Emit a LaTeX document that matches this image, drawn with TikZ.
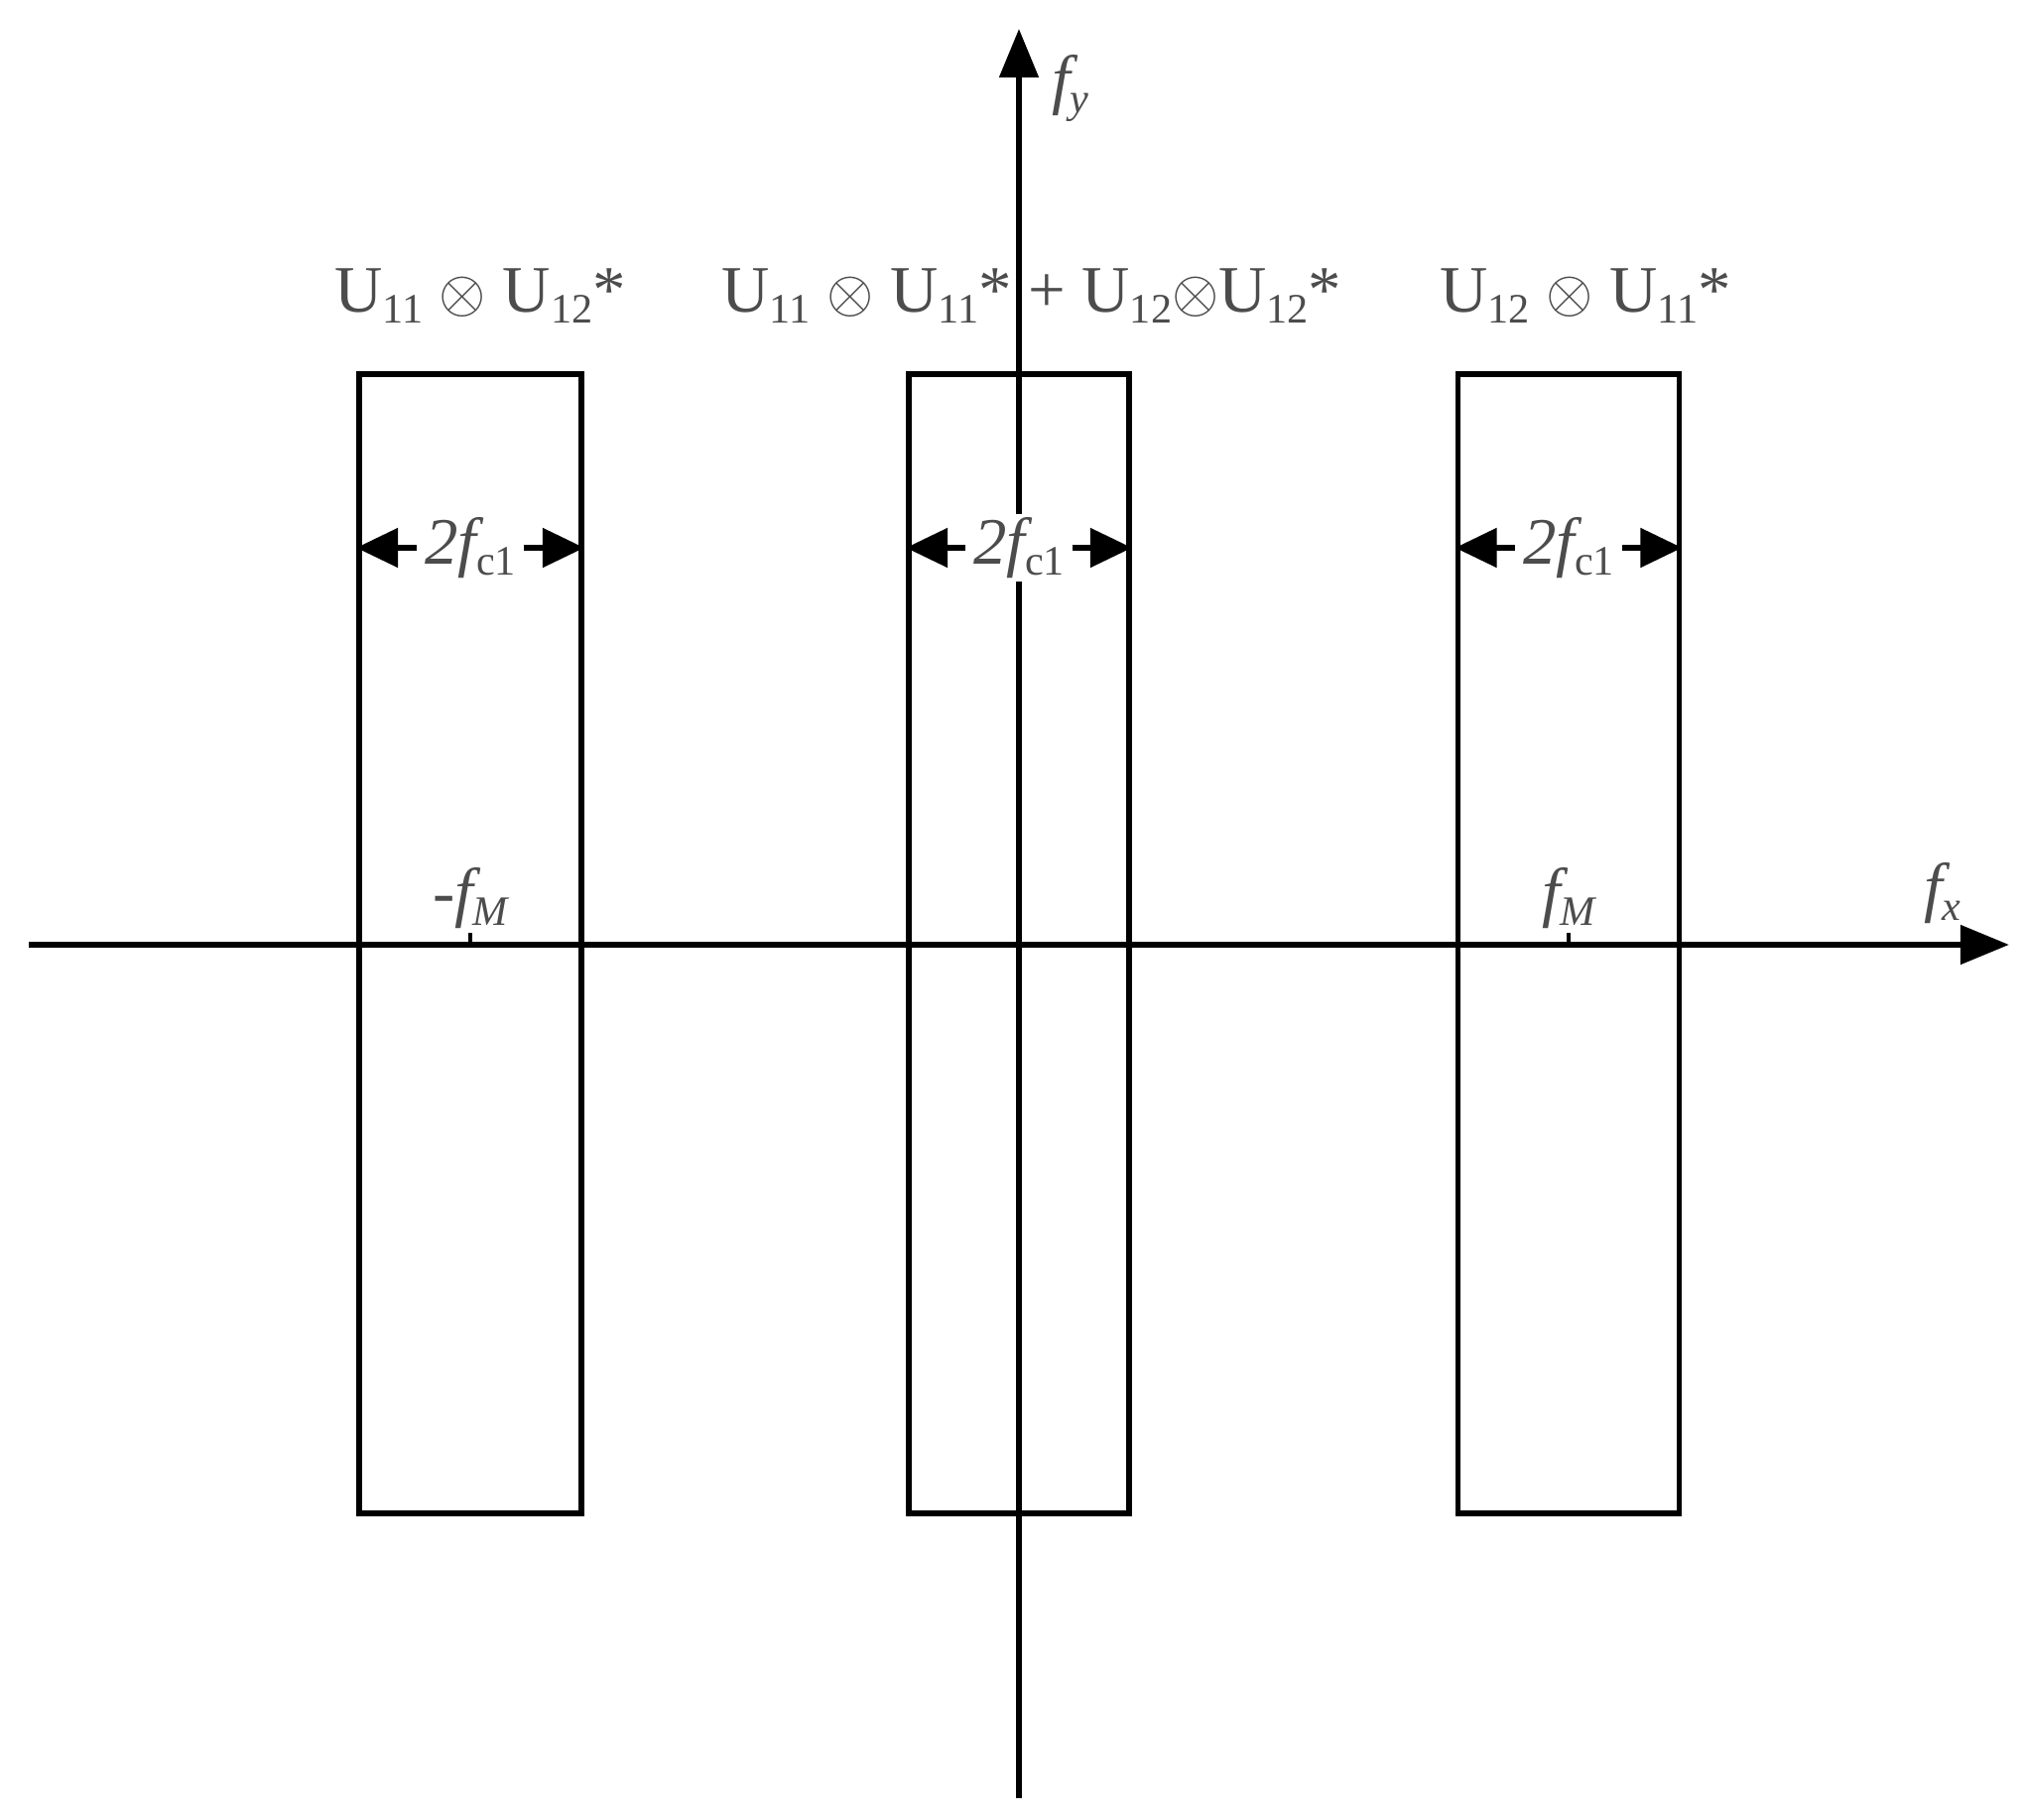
\documentclass[tikz,border=0pt]{standalone}
\usepackage{fontspec}
\setmainfont{Liberation Serif}
\usetikzlibrary{arrows.meta}
\newcommand{\sbs}[1]{\raisebox{-0.35ex}{\fontsize{12}{14}\selectfont #1}}
\begin{document}
\begin{tikzpicture}[x=0.01cm,y=-0.01cm,
  ax/.style={line width=1.8pt,-{Triangle[length=14pt,width=11pt]}},
  band/.style={draw,line width=1.7pt},
  dim/.style={line width=1.8pt,{Triangle[length=12pt,width=11pt]}-{Triangle[length=12pt,width=11pt]}},
  lab/.style={font=\fontsize{19}{22}\selectfont,text=black!70,inner sep=1pt},
  flab/.style={font=\fontsize{19}{22}\selectfont\itshape,text=black!70,inner sep=1pt}]
\useasboundingbox (0,0) rectangle (2041,1834);
\coordinate (xl) at (29,952); \coordinate (xr) at (2025,952);
\coordinate (yb) at (1027,1812); \coordinate (yt) at (1027,29);
\draw[ax] (xl) -- (xr);
\draw[ax] (yb) -- (yt);
\node[flab] (fx) at (1958,900) {f\sbs{x}};
\node[flab] (fy) at (1079,89) {f\sbs{y}};
\foreach \n/\l/\r/\c in {L/362/586/474, M/916/1138/1027, R/1470/1693/1581}{
  \node[band,minimum width={(\r-\l)*0.01cm},minimum height=11.48cm,inner sep=0] (b\n) at (\c,951) {};
  \node[flab,fill=white,inner xsep=2pt] (d\n) at (\c,552) {2f\sbs{\upshape c1}};
  \draw[line width=1.8pt,{Triangle[length=12pt,width=11pt]}-] (b\n.west |- d\n) -- (d\n.west);
  \draw[line width=1.8pt,-{Triangle[length=12pt,width=11pt]}] (d\n.east) -- (b\n.east |- d\n);
}
\draw[line width=1.3pt] (474,952) -- (474,940) coordinate (tL);
\draw[line width=1.3pt] (1581,952) -- (1581,940) coordinate (tR);
\node[flab,above=0pt] (fmL) at (tL) {-f\sbs{M}};
\node[flab,above=0pt] (fmR) at (tR) {f\sbs{M}};
\node[lab] (uL) at (484,298) {U\sbs{11} $\otimes$ U\sbs{12}*};
\node[lab] (uM) at (1040,298) {U\sbs{11} $\otimes$ U\sbs{11}* + U\sbs{12}$\otimes$U\sbs{12}*};
\node[lab] (uR) at (1598,298) {U\sbs{12} $\otimes$ U\sbs{11}*};
\end{tikzpicture}
\end{document}
